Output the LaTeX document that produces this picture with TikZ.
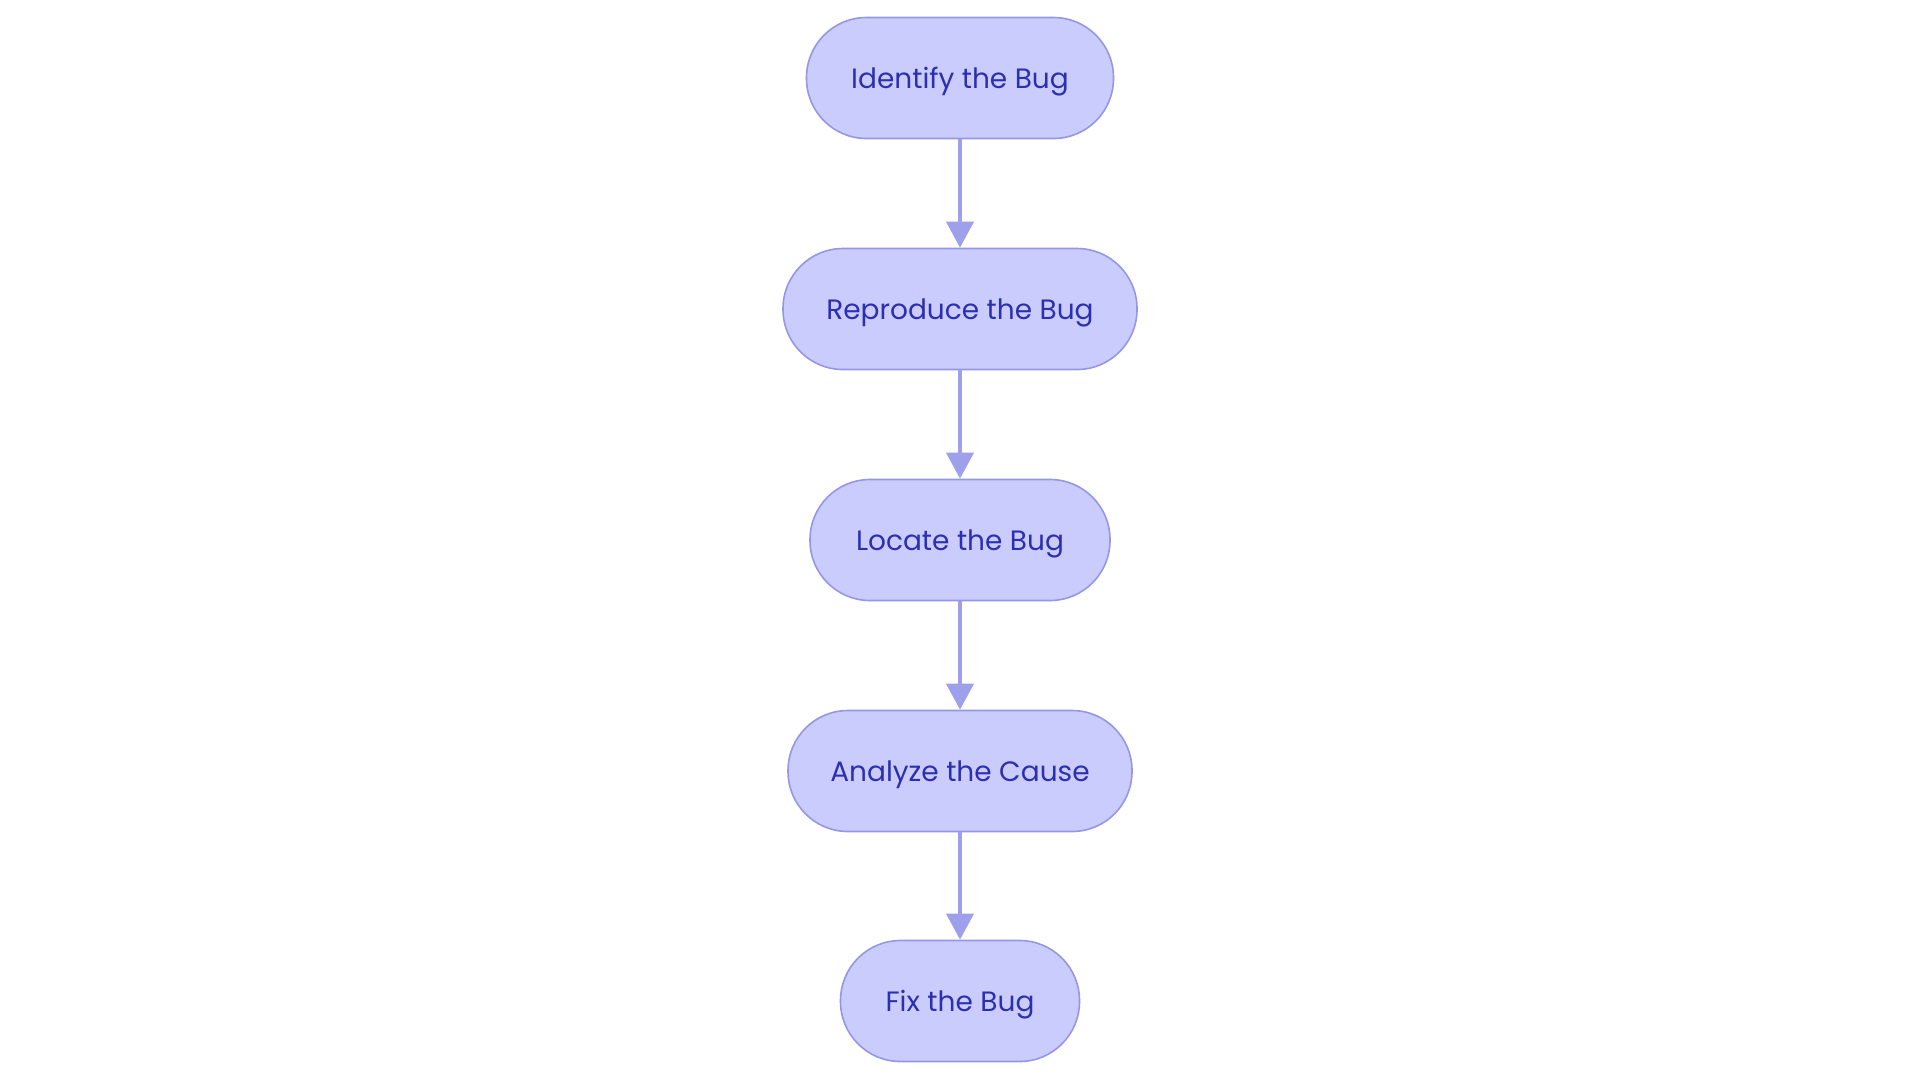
\documentclass[tikz,border=0pt]{standalone}
\usepackage{fontspec}
\setmainfont{Poppins}
\usetikzlibrary{arrows.meta}
\definecolor{nodefill}{HTML}{CBCCFE}
\definecolor{nodedraw}{HTML}{9597E4}
\definecolor{nodetext}{HTML}{2B2FB0}
\definecolor{edgecol}{HTML}{9FA0EB}
\tikzset{
  stage/.style={draw=nodedraw, line width=1.6pt, fill=nodefill, text=nodetext,
    rounded corners=60pt, minimum height=121pt, inner sep=0pt,
    text height=28pt, text depth=6.5pt,
    font=\fontsize{28}{32}\selectfont},
  flow/.style={draw=edgecol, line width=4pt, -{Triangle[length=26pt,width=27pt]}}
}
\begin{document}
\begin{tikzpicture}[x=1pt,y=-1pt]
\useasboundingbox (0,0) rectangle (1920,1080);
\node[stage, minimum width=307pt] (n1) at (960,78) {Identify the Bug};
\node[stage, minimum width=354pt] (n2) at (960,309) {Reproduce the Bug};
\node[stage, minimum width=300pt] (n3) at (960,540) {Locate the Bug};
\node[stage, minimum width=344pt] (n4) at (960,771) {Analyze the Cause};
\node[stage, minimum width=239pt] (n5) at (960,1001) {Fix the Bug};
\draw[flow] (n1) -- (n2);
\draw[flow] (n2) -- (n3);
\draw[flow] (n3) -- (n4);
\draw[flow] (n4) -- (n5);
\end{tikzpicture}
\end{document}
